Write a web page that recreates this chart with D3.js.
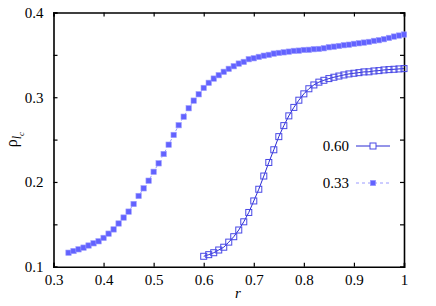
<!DOCTYPE html>
<html>
<head>
<meta charset="utf-8">
<script src="https://cdn.jsdelivr.net/npm/d3@7"></script>
<style>
  body { margin: 0; background: #fff; }
</style>
</head>
<body>
<div id="chart"></div>
<script>
const serif = "'Liberation Serif', 'Times New Roman', Times, 'DejaVu Serif', serif"

// r values, step 0.01
const rLow = d3.range(33, 101).map(d => d / 100)   // series 0.33
const rHigh = d3.range(60, 101).map(d => d / 100)  // series 0.60

const rho033 = [
  0.1165, 0.1185, 0.1205, 0.1225, 0.125, 0.1276, 0.130, 0.134, 0.139, 0.144,
  0.151, 0.158, 0.165, 0.174, 0.1835, 0.1925, 0.2015, 0.212, 0.222, 0.233,
  0.244, 0.2555, 0.267, 0.277, 0.287, 0.296, 0.3035, 0.311, 0.317, 0.322,
  0.326, 0.330, 0.3335, 0.3366, 0.3397, 0.3417, 0.3449, 0.346, 0.3476, 0.349,
  0.350, 0.3515, 0.3523, 0.353, 0.3538, 0.3547, 0.355, 0.3558, 0.356, 0.3567,
  0.357, 0.3578, 0.359, 0.3597, 0.3605, 0.3614, 0.362, 0.363, 0.3637, 0.3645,
  0.3653, 0.3665, 0.3673, 0.3685, 0.370, 0.3716, 0.3728, 0.374
]

const rho060 = [
  0.1123, 0.1142, 0.1165, 0.1197, 0.123, 0.129, 0.1354, 0.1433, 0.153, 0.164,
  0.1776, 0.1914, 0.207, 0.223, 0.238, 0.2535, 0.2665, 0.278, 0.288, 0.2965,
  0.304, 0.310, 0.3145, 0.3178, 0.320, 0.322, 0.3236, 0.325, 0.3263, 0.3275,
  0.3283, 0.329, 0.3299, 0.330, 0.331, 0.3314, 0.3322, 0.3326, 0.333, 0.3334,
  0.3338
]

const xTicks = [0.3, 0.4, 0.5, 0.6, 0.7, 0.8, 0.9, 1]
const yTicks = [0.1, 0.15, 0.2, 0.25, 0.3, 0.35, 0.4]
const yLabels = [0.1, 0.2, 0.3, 0.4]
const legendNames = ["0.60", "0.33"]

const width = 436, height = 306
const margin = { left: 53.5, right: 32, top: 12.5, bottom: 39.3 }

const svg = d3.select("#chart").append("svg")
  .attr("width", width)
  .attr("height", height)

const x = d3.scaleLinear()
  .domain([0.3, 1])
  .range([margin.left, width - margin.right])

const y = d3.scaleLinear()
  .domain([0.1, 0.4])
  .range([height - margin.bottom, margin.top])

const fmtX = d => d === 1 ? "1" : d3.format(".1f")(d)
const fmtY = d => yLabels.includes(d) ? d3.format(".1f")(d) : ""

// axes, ticks pointing inward
const axes = svg.append("g").attr("class", "axes")

const xBottom = axes.append("g")
  .attr("transform", `translate(0,${y(0.1)})`)
  .call(d3.axisBottom(x).tickValues(xTicks).tickSize(-4).tickPadding(8).tickFormat(fmtX))

axes.append("g")
  .attr("transform", `translate(0,${y(0.4)})`)
  .call(d3.axisTop(x).tickValues(xTicks).tickSize(-4).tickFormat(""))

const yLeft = axes.append("g")
  .attr("transform", `translate(${x(0.3)},0)`)
  .call(d3.axisLeft(y).tickValues(yTicks).tickSize(-4).tickPadding(10).tickFormat(fmtY))

axes.append("g")
  .attr("transform", `translate(${x(1)},0)`)
  .call(d3.axisRight(y).tickValues(yTicks).tickSize(-4).tickFormat(""))

xBottom.attr("font-family", serif).attr("font-size", 15)
yLeft.attr("font-family", serif).attr("font-size", 15)

axes.selectAll(".domain").attr("stroke", "#000").attr("stroke-width", 1.6)
axes.selectAll(".tick line").attr("stroke", "#000").attr("stroke-width", 1.2)
axes.selectAll(".tick text").attr("fill", "#000")

// axis titles
svg.append("text")
  .attr("x", 238)
  .attr("y", 298)
  .attr("text-anchor", "middle")
  .attr("font-family", serif)
  .attr("font-size", 15)
  .attr("font-style", "italic")
  .text("r")

const yTitle = svg.append("text")
  .attr("transform", `translate(17,${y(0.25)}) rotate(-90)`)
  .attr("text-anchor", "middle")
  .attr("font-family", serif)
  .attr("font-size", 16)
yTitle.append("tspan").text("ρ")
yTitle.append("tspan").attr("dy", 4).attr("font-size", 12).attr("font-style", "italic").text("l")
yTitle.append("tspan").attr("dy", 3).attr("font-size", 9).attr("font-style", "italic").text("c")

const line = d3.line().x(d => x(d[0])).y(d => y(d[1]))

const low = rLow.map((r, i) => [r, rho033[i]])
const high = rHigh.map((r, i) => [r, rho060[i]])

// series 0.33: filled squares, dashed light line
svg.append("path")
  .datum(low)
  .attr("d", line)
  .attr("fill", "none")
  .attr("stroke", "#9a9aff")
  .attr("stroke-width", 1)
  .attr("stroke-dasharray", "3,3")

svg.append("g").selectAll("rect")
  .data(low)
  .enter().append("rect")
  .attr("x", d => x(d[0]) - 2.7)
  .attr("y", d => y(d[1]) - 2.7)
  .attr("width", 5.4)
  .attr("height", 5.4)
  .attr("fill", "#6262ff")
  .attr("stroke", "#a0a0ff")
  .attr("stroke-width", 0.6)

// series 0.60: open squares, solid line
svg.append("path")
  .datum(high)
  .attr("d", line)
  .attr("fill", "none")
  .attr("stroke", "#2a2ad2")
  .attr("stroke-width", 1)

svg.append("g").selectAll("rect")
  .data(high)
  .enter().append("rect")
  .attr("x", d => x(d[0]) - 3)
  .attr("y", d => y(d[1]) - 3)
  .attr("width", 6)
  .attr("height", 6)
  .attr("fill", "none")
  .attr("stroke", "#4848e6")
  .attr("stroke-width", 1)

// legend
const legend = svg.append("g")
const legY = [146, 183]

legendNames.forEach((name, i) => {
  const g = legend.append("g").attr("transform", `translate(0,${legY[i]})`)
  g.append("text")
    .attr("x", 349)
    .attr("y", 5)
    .attr("text-anchor", "end")
    .attr("font-family", serif)
    .attr("font-size", 15)
    .text(name)
  g.append("line")
    .attr("x1", 356).attr("x2", 390)
    .attr("stroke", i === 0 ? "#2a2ad2" : "#9a9aff")
    .attr("stroke-width", 1)
    .attr("stroke-dasharray", i === 0 ? null : "3,3")
  if (i === 0) {
    g.append("rect").attr("x", 370).attr("y", -3).attr("width", 6).attr("height", 6)
      .attr("fill", "#fff").attr("stroke", "#4848e6")
  } else {
    g.append("rect").attr("x", 370.3).attr("y", -2.7).attr("width", 5.4).attr("height", 5.4)
      .attr("fill", "#6262ff").attr("stroke", "#a0a0ff").attr("stroke-width", 0.6)
  }
})
</script>
</body>
</html>
